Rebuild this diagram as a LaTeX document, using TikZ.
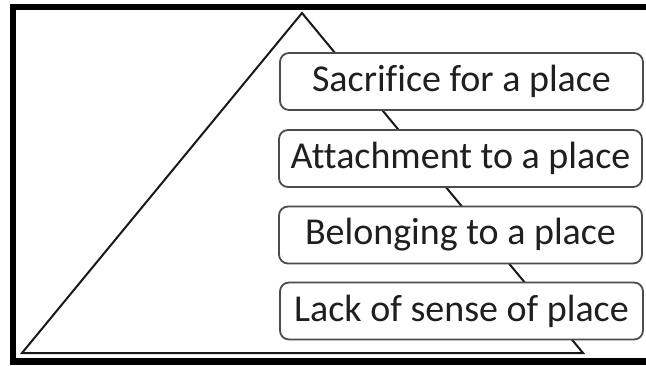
\documentclass[tikz,border=0pt]{standalone}
\usepackage{fontspec}
\setmainfont[Ligatures={NoCommon}]{Carlito}
\tikzset{
  lvlbox/.style={draw=black!70, line width=1.8pt, fill=white, rounded corners=9pt,
    minimum width=363pt, minimum height=57pt, inner sep=0pt,
    font=\fontsize{38}{42}\selectfont, text=black!88},
  frame/.style={line width=6.5pt, black},
  tri/.style={line width=2pt, black!90}
}
\begin{document}
\begin{tikzpicture}[x=1pt,y=-1pt]
\useasboundingbox (0,0) rectangle (646,365);
\fill[white] (0,0) rectangle (646,365);
\draw[frame] (646,7) -- (13,7) -- (13,361.5) -- (646,361.5);
\coordinate (apex) at (302,13);
\coordinate (bl) at (22,353);
\coordinate (br) at (583,353);
\draw[tri, line join=miter] (apex) -- (bl) -- (br) -- cycle;
\node[lvlbox] (b1) at (461.5,81.5) {Sacrifice for a place};
\node[lvlbox] (b2) at (460.5,158.5) {Attachment to a place};
\node[lvlbox] (b3) at (460.5,235) {Belonging to a place};
\node[lvlbox] (b4) at (461.5,311) {Lack of sense of place};
\end{tikzpicture}
\end{document}
